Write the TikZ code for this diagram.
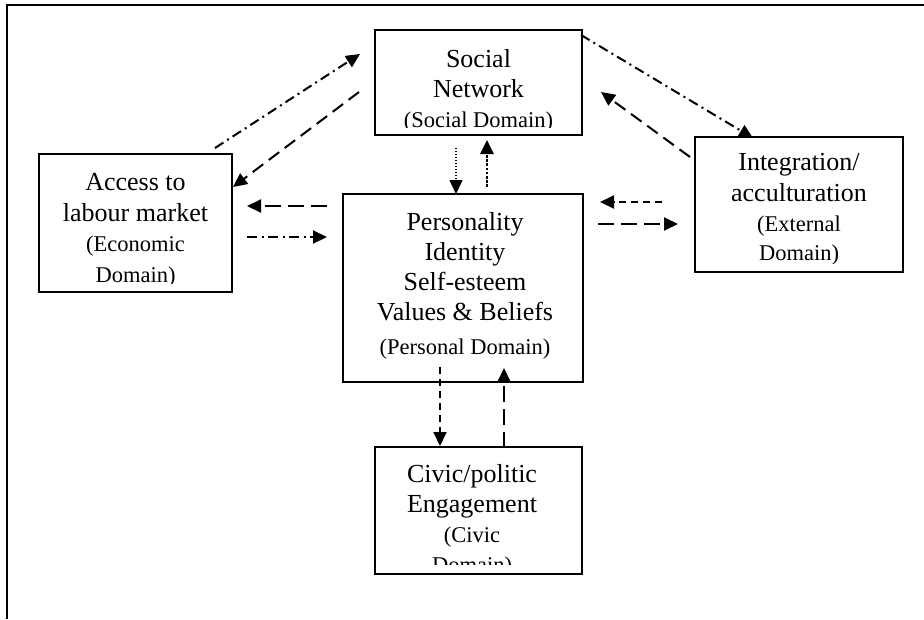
\documentclass[tikz,border=0pt]{standalone}
\usepackage{fontspec}
\setmainfont{Liberation Serif}
\usetikzlibrary{arrows.meta,calc}
\begin{document}
\begin{tikzpicture}[x=1pt,y=-1pt,
  box/.style={draw, line width=2.6pt, inner sep=0pt},
  big/.style={anchor=base, inner sep=0pt, font=\fontsize{26}{30}\selectfont},
  small/.style={anchor=base, inner sep=0pt, font=\fontsize{22.5}{30}\selectfont},
  arr/.style={line width=2pt, -{Triangle[length=14pt,width=13pt]}},
  dashdotst/.style={dash pattern=on 10pt off 4.5pt on 2pt off 4.5pt},
  dashlong/.style={dash pattern=on 16pt off 7pt},
  dashmid/.style={dash pattern=on 13pt off 7pt},
  dashshort/.style={dash pattern=on 7pt off 5pt},
  dotfine/.style={line width=1.4pt, dash pattern=on 1.4pt off 1.6pt},
  dotheavy/.style={line width=2.8pt, dash pattern=on 2.6pt off 1.6pt}
]
\useasboundingbox (0,0) rectangle (924,619);
% frame
\draw[line width=2pt] (924,5) -- (7,5) -- (7,619);

% boxes
\node[box, minimum width=207pt, minimum height=105pt] (soc) at (478.5,82.5) {};
\node[box, minimum width=193pt, minimum height=138pt] (acc) at (135.5,223) {};
\node[box, minimum width=240pt, minimum height=188pt] (per) at (463,288) {};
\node[box, minimum width=208pt, minimum height=135pt] (int) at (799,204.5) {};
\node[box, minimum width=207pt, minimum height=127pt] (civ) at (478.5,510.5) {};

% texts
\begin{scope}
\clip (soc.north west) rectangle ($(soc.south east)+(0,-9)$);
\node[big] (s1) at (478.5,67) {Social};
\node[big] (s2) at (478.5,97.5) {Network};
\node[small] (s3) at (478.5,127) {(Social Domain)};
\end{scope}
\begin{scope}
\clip (acc.north west) rectangle ($(acc.south east)+(0,-10)$);
\node[big] (a1) at (135.5,190) {Access to};
\node[big] (a2) at (135.5,221) {labour market};
\node[small] (a3) at (135.5,251.5) {(Economic};
\node[small] (a4) at (135.5,282) {Domain)};
\end{scope}
\begin{scope}
\clip (per.north west) rectangle ($(per.south east)+(0,-11)$);
\node[big] (p1) at (465,230) {Personality};
\node[big] (p2) at (465,260) {Identity};
\node[big] (p3) at (465,290) {Self-esteem};
\node[big] (p4) at (465,320) {Values \& Beliefs};
\node[small] (p5) at (465,354) {(Personal Domain)};
\end{scope}
\begin{scope}
\clip (int.north west) rectangle ($(int.south east)+(0,-10)$);
\node[big] (i1) at (799,170) {Integration/};
\node[big] (i2) at (799,201) {acculturation};
\node[small] (i3) at (799,231) {(External};
\node[small] (i4) at (799,260) {Domain)};
\end{scope}
\begin{scope}
\clip (civ.north west) rectangle ($(civ.south east)+(0,-11)$);
\node[big] (c1) at (472,482) {Civic/politic};
\node[big] (c2) at (472,512) {Engagement};
\node[small] (c3) at (472,542) {(Civic};
\node[small] (c4) at (472,572) {Domain)};
\end{scope}

% arrow end points
\coordinate (e1a) at (215,148);  \coordinate (e1b) at (360,54);
\coordinate (e2a) at (359,92);   \coordinate (e2b) at (233,187);
\coordinate (e3a) at (327,206);  \coordinate (e3b) at (247,206);
\coordinate (e4a) at (247,237);  \coordinate (e4b) at (327,237);
\coordinate (e5a) at (456,148);  \coordinate (e5b) at (456,194);
\coordinate (e6a) at (487,187);  \coordinate (e6b) at (487,140);
\coordinate (e7a) at (662,202);  \coordinate (e7b) at (600,202);
\coordinate (e8a) at (598,224);  \coordinate (e8b) at (678,224);
\coordinate (e9a) at (581,35);   \coordinate (e9b) at (753,138);
\coordinate (e10a) at (690,157); \coordinate (e10b) at (601,92);
\coordinate (e11a) at (440,367); \coordinate (e11b) at (440,446);
\coordinate (e12a) at (504,448); \coordinate (e12b) at (504,368);

% arrows
\draw[arr, dashdotst] (e1a) -- (e1b);
\draw[arr, dashmid] (e2a) -- (e2b);
\draw[arr, dashlong] (e3a) -- (e3b);
\draw[arr, dashdotst] (e4a) -- (e4b);
\draw[arr, dotfine] (e5a) -- (e5b);
\draw[arr, dotheavy] (e6a) -- (e6b);
\draw[arr, dashshort] (e7a) -- (e7b);
\draw[arr, dashlong] (e8a) -- (e8b);
\draw[arr, dashdotst] (e9a) -- (e9b);
\draw[arr, dashmid] (e10a) -- (e10b);
\draw[arr, dashshort] (e11a) -- (e11b);
\draw[arr, dashlong] (e12a) -- (e12b);
\end{tikzpicture}
\end{document}
